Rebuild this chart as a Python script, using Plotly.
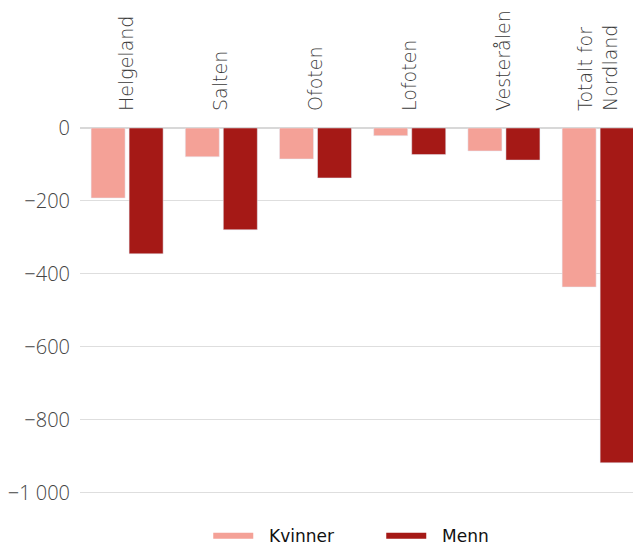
import plotly.graph_objects as go

categories = ["Helgeland", "Salten", "Ofoten", "Lofoten", "Vesterålen", "Totalt for<br>Nordland"]
kvinner = [-192, -79, -85, -21, -63, -436]
menn = [-345, -279, -137, -73, -88, -918]
tick_vals = [0, -200, -400, -600, -800, -1000]
tick_text = ["0", "−200", "−400", "−600", "−800", "−1 000"]
legend_names = ["Kvinner", "Menn"]

c_k = "#F4A197"
c_m = "#A51916"
font_family = "'Open Sans', Lato, sans-serif"
pad = "\u00a0\u00a0"

fig = go.Figure()
fig.add_trace(go.Bar(x=categories, y=kvinner, name="Kvinner", marker_color=c_k, showlegend=False))
fig.add_trace(go.Bar(x=categories, y=menn, name="Menn", marker_color=c_m, showlegend=False))
fig.add_trace(go.Scatter(x=[None], y=[None], mode="lines", name=pad + legend_names[0],
                         line=dict(color=c_k, width=6)))
fig.add_trace(go.Scatter(x=[None], y=[None], mode="lines", name=pad + legend_names[1],
                         line=dict(color=c_m, width=6)))

fig.update_layout(
    width=633, height=540,
    margin=dict(l=72, r=0, t=120, b=48, autoexpand=False),
    plot_bgcolor="white", paper_bgcolor="white",
    barmode="group", bargap=0.193, bargroupgap=0.105,
    font=dict(family=font_family, color="#333"),
    xaxis=dict(side="top", tickangle=-90, range=[-0.5, 5.455],
               tickfont=dict(family="'DejaVu Sans', sans-serif", size=19, color="#3a3a3a", weight=200),
               showgrid=False, showline=False, ticks="", ticklabelstandoff=16,
               automargin=False),
    yaxis=dict(range=[-1020, 0], tickvals=tick_vals, ticktext=tick_text,
               tickfont=dict(size=20, color="#444", weight=300), gridcolor="#dedede", gridwidth=1,
               zeroline=True, zerolinecolor="#d8d8d8", zerolinewidth=2,
               ticks="", ticklabelstandoff=9, automargin=False),
    legend=dict(orientation="h", x=0.537, xanchor="center", y=-0.097, yanchor="middle",
                font=dict(family="'DejaVu Sans', sans-serif", size=17, color="#111"),
                itemwidth=40, entrywidthmode="pixels", entrywidth=118),
)

fig.write_html("out.html")
